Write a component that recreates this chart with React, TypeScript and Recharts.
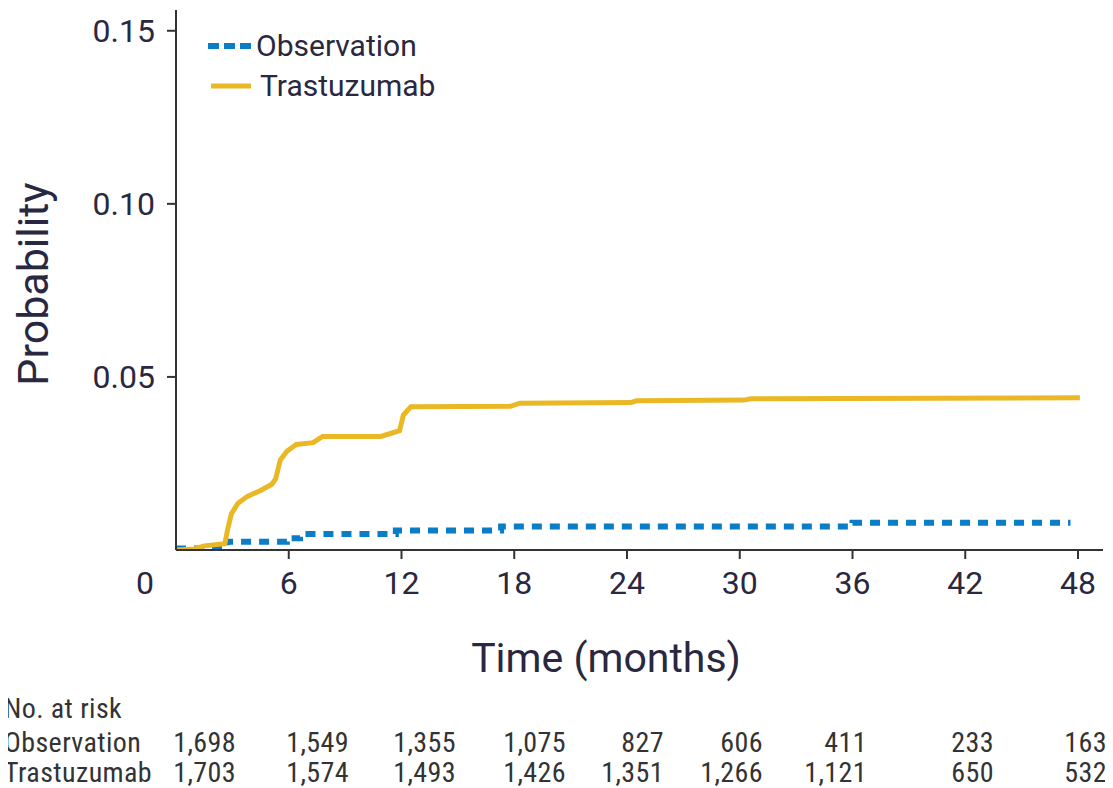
import React from 'react';
import { LineChart, Line, XAxis, YAxis, Legend } from 'recharts';

// ---- data ----
const xTicks = [0, 6, 12, 18, 24, 30, 36, 42, 48];
const yTicks = [0.05, 0.1, 0.15];

const trasTime = [0, 1.0, 1.5, 2.6, 2.75, 2.95, 3.3, 3.8, 4.5, 5.1, 5.3, 5.55, 5.9, 6.4, 7.3, 7.8, 10.9, 11.5, 11.9, 12.1, 12.5, 17.8, 18.3, 24.2, 24.5, 30.2, 30.6, 48.1];
const trasProb = [0, 0.0003, 0.0012, 0.0018, 0.006, 0.0105, 0.0135, 0.0155, 0.0172, 0.019, 0.0205, 0.026, 0.0285, 0.0305, 0.031, 0.0328, 0.0328, 0.0338, 0.0345, 0.039, 0.0414, 0.0415, 0.0424, 0.0426, 0.0431, 0.0433, 0.0437, 0.044];

const obsTime = [0, 2.7, 5.9, 6.6, 11.7, 17.3, 36.0, 47.6];
const obsProb = [0.0004, 0.0024, 0.0034, 0.0046, 0.0056, 0.0068, 0.0079, 0.0079];

const riskLabels = ['Observation', 'Trastuzumab'];
const riskObservation = ['1,698', '1,549', '1,355', '1,075', '827', '606', '411', '233', '163'];
const riskTrastuzumab = ['1,703', '1,574', '1,493', '1,426', '1,351', '1,266', '1,121', '650', '532'];

// ---- layout / style ----
const riskColRight = [236, 349, 456, 566, 664, 763, 867, 994, 1107];
const TXT = '#2a2840';
const AX = '#333333';
const BLUE = '#0b7dc6';
const YELLOW = '#e9b824';
const FONT = 'Roboto, "Liberation Sans", Arial, sans-serif';
const NARROW = '"Liberation Sans Narrow", "Roboto Condensed", Roboto, sans-serif';

const trasData = trasTime.map((t, i) => ({ t, p: trasProb[i] }));
const obsData = obsTime.map((t, i) => ({ t, p: obsProb[i] }));

const XTick = (props: any) => {
  const { x, y, payload } = props;
  const v = payload.value;
  return (
    <g>
      {v !== 0 && <line x1={x} y1={y} x2={x} y2={y + 9} stroke={AX} strokeWidth={2} />}
      <text x={v === 0 ? x - 31 : x} y={y + 44} textAnchor="middle" fontSize={32} fontFamily={FONT} fill={TXT}>
        {v}
      </text>
    </g>
  );
};

const LegendContent = () => (
  <div style={{ fontFamily: FONT, fontSize: 30, color: TXT, lineHeight: '40px' }}>
    <div style={{ display: 'flex', alignItems: 'center' }}>
      <svg width={48} height={40}>
        <line x1={0} y1={20} x2={44} y2={20} stroke={BLUE} strokeWidth={6} strokeDasharray="11 5" />
      </svg>
      <span>Observation</span>
    </div>
    <div style={{ display: 'flex', alignItems: 'center' }}>
      <svg width={52} height={40}>
        <line x1={3} y1={20} x2={43} y2={20} stroke={YELLOW} strokeWidth={5} />
      </svg>
      <span>Trastuzumab</span>
    </div>
  </div>
);

export default function App() {
  return (
    <div style={{ position: 'relative', margin: '-8px 0 0 -8px', width: 1113, height: 788, background: '#fff' }}>
      <div style={{ position: 'absolute', left: 0, top: 0 }}>
        <LineChart width={1113} height={620} margin={{ top: 10, right: 10, left: 0, bottom: 0 }}>
          <XAxis
            type="number"
            dataKey="t"
            domain={[0, 49.33]}
            ticks={xTicks}
            allowDataOverflow
            height={70}
            tickSize={0}
            tickMargin={0}
            tickLine={false}
            axisLine={{ stroke: AX, strokeWidth: 2 }}
            tick={<XTick />}
            interval={0}
          />
          <YAxis
            type="number"
            dataKey="p"
            domain={[0, 0.156]}
            ticks={yTicks}
            allowDataOverflow
            width={176}
            tickSize={9}
            tickMargin={12}
            tickLine={{ stroke: AX, strokeWidth: 2 }}
            axisLine={{ stroke: AX, strokeWidth: 2 }}
            tick={{ fontSize: 32, fontFamily: FONT, fill: TXT }}
            tickFormatter={(v: number) => v.toFixed(2)}
            interval={0}
          />
          <Legend
            layout="vertical"
            verticalAlign="middle"
            align="center"
            content={<LegendContent />}
            wrapperStyle={{ position: 'absolute', left: 208, top: 26, width: 300 }}
          />
          <Line
            data={obsData}
            dataKey="p"
            name="Observation"
            type="stepAfter"
            stroke={BLUE}
            strokeWidth={6}
            strokeDasharray="10 8"
            dot={false}
            activeDot={false}
            isAnimationActive={false}
          />
          <Line
            data={trasData}
            dataKey="p"
            name="Trastuzumab"
            type="linear"
            stroke={YELLOW}
            strokeWidth={5}
            dot={false}
            activeDot={false}
            isAnimationActive={false}
          />
        </LineChart>
      </div>
      <svg width={1113} height={788} style={{ position: 'absolute', left: 0, top: 0, pointerEvents: 'none' }}>
        <text transform="translate(48,284) rotate(-90)" textAnchor="middle" fontSize={43} fontFamily={FONT} fill={TXT}>
          Probability
        </text>
        <text x={606} y={672} textAnchor="middle" fontSize={41} fontFamily={FONT} fill={TXT}>
          Time (months)
        </text>
        <g fontFamily={NARROW} fontSize={28} fill="#333" letterSpacing={0.4}>
          <text x={4} y={718}>No. at risk</text>
          <text x={4} y={752}>{riskLabels[0]}</text>
          <text x={4} y={782}>{riskLabels[1]}</text>
          {riskObservation.map((v, i) => (
            <text key={'o' + i} x={riskColRight[i]} y={752} textAnchor="end">{v}</text>
          ))}
          {riskTrastuzumab.map((v, i) => (
            <text key={'t' + i} x={riskColRight[i]} y={782} textAnchor="end">{v}</text>
          ))}
        </g>
      </svg>
    </div>
  );
}
